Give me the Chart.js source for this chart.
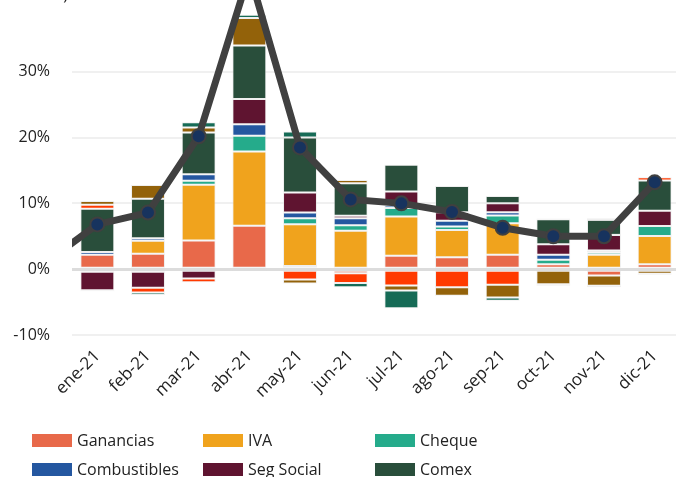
<!DOCTYPE html>
<html>
<head>
<meta charset="utf-8">
<script src="https://cdn.jsdelivr.net/npm/chart.js@4.4.1/dist/chart.umd.min.js"></script>
<style>
  html, body { margin: 0; padding: 0; background: #fff; }
  #wrap { position: relative; width: 676px; height: 477px; overflow: hidden; }
  #legend { position: absolute; left: 0; top: 0; width: 676px; height: 477px; pointer-events: none;
            font-family: "Open Sans", sans-serif; font-size: 16px; color: #222; }
  .item { position: absolute; display: flex; align-items: center; white-space: nowrap; }
  .box { width: 40px; height: 13px; margin-right: 5px; }
</style>
</head>
<body>
<div id="wrap">
  <!-- a bit wider than the page: the original plot runs past the right edge -->
  <canvas id="chart" width="680" height="477"></canvas>
  <div id="legend"></div>
</div>
<script>
// first label is only there so the line comes in from the left edge
const months = ['dic-20', 'ene-21', 'feb-21', 'mar-21', 'abr-21', 'may-21', 'jun-21',
                'jul-21', 'ago-21', 'sep-21', 'oct-21', 'nov-21', 'dic-21'];
const yTicks = [-10, 0, 10, 20, 30];

// contributions (p.p.)
const ganancias    = [null, 2.2, 2.33, 4.36, 6.59, 0.5, -0.6, 2.03, 1.82, 2.18, 0.76, -0.96, 0.76];
const iva          = [null, -0.4, 1.98, 8.46, 11.3, 6.33, 5.83, 5.98, 4.15, 4.8, 0, 2.18, 4.3];
const cheque       = [null, 0, -0.4, 0.6, 2.38, 0.91, 0.86, 1.27, 0.5, 1.17, 0.66, 0.35, 1.52];
const combustibles = [null, 0.4, 0.4, 1.0, 1.77, 0.86, 1.06, 0.4, 0.9, 0.5, 0.76, 0.3, 0];
const segSocial    = [null, -2.8, -2.43, -1.4, 3.8, 3.04, 0.35, 2.13, 1.27, 1.37, 1.62, 2.38, 2.28];
const comex        = [null, 6.6, 6.0, 6.33, 8.16, 8.36, 4.96, 4.05, 4.0, 1.1, 3.8, 2.28, 4.6];
const bienesPers   = [null, 0.6, -0.7, -0.6, -0.2, -1.57, -1.5, -2.48, -2.74, -2.38, 0.1, 0.25, 0.5];
const otros        = [null, 0.55, 2.08, 0.76, 4.15, -0.6, 0.5, -0.76, -1.3, -1.93, -2.28, -1.57, -0.7];
const resto        = [null, -0.15, -0.4, 0.81, 0.5, 0.91, -0.66, -2.68, 0, -0.5, -0.25, -0.2, -0.15];

// total (var. %)
const total = [1.1, 6.8, 8.6, 20.2, 45, 18.5, 10.6, 10.0, 8.7, 6.3, 5.0, 5.0, 13.2];

const series = [
    { label: 'Ganancias', data: ganancias, color: '#e8694a', legend: true },
    { label: 'IVA', data: iva, color: '#f0a31d', legend: true },
    { label: 'Cheque', data: cheque, color: '#25ab8b', legend: true },
    { label: 'Combustibles', data: combustibles, color: '#2457a0', legend: true },
    { label: 'Seg Social', data: segSocial, color: '#5f1430', legend: true },
    { label: 'Comex', data: comex, color: '#294e3b', legend: true },
    { label: 'Bienes Personales', data: bienesPers, color: '#ff3a00', legend: false },
    { label: 'Otros', data: otros, color: '#93620a', legend: false },
    { label: 'Resto', data: resto, color: '#166b56', legend: false }
];

const FONT = "'Open Sans', sans-serif";

const datasets = series.map(s => ({
    type: 'bar',
    label: s.label,
    data: s.data,
    backgroundColor: s.color,
    borderColor: 'rgba(225,225,225,0.55)',
    borderWidth: 1,
    borderSkipped: false,
    categoryPercentage: 1,
    barPercentage: 0.67,
    stack: 'bars',
    order: 1
}));

datasets.push({
    type: 'line',
    label: 'Total',
    data: total,
    borderColor: '#404040',
    borderWidth: 7,
    pointRadius: 7,
    pointBackgroundColor: '#17335e',
    pointBorderColor: '#404040',
    pointBorderWidth: 2,
    tension: 0,
    stack: 'line',
    clip: 0,
    order: 0
});

// the cut-off title, only its descending ")" shows
const topText = {
    id: 'topText',
    afterDraw(chart) {
        const ctx = chart.ctx;
        ctx.save();
        ctx.font = "16px " + FONT;
        ctx.fillStyle = '#222';
        ctx.textAlign = 'right';
        ctx.textBaseline = 'alphabetic';
        ctx.fillText(')', 68, 0);
        ctx.restore();
    }
};

const chart = new Chart(document.getElementById('chart'), {
    data: { labels: months, datasets: datasets },
    options: {
        responsive: false,
        animation: false,
        layout: { autoPadding: false, padding: { left: 0, right: 0, top: 0, bottom: 57 } },
        plugins: {
            legend: { display: false },
            tooltip: { enabled: false }
        },
        scales: {
            x: {
                stacked: true,
                offset: true,
                min: 'ene-21',
                grid: { display: false, drawTicks: false },
                border: { display: false },
                ticks: {
                    minRotation: 45,
                    maxRotation: 45,
                    padding: 11,
                    color: '#222',
                    font: { family: FONT, size: 17 }
                },
                afterFit: scale => {
                    scale.height = 85;
                    scale.paddingLeft = 0;
                    scale.paddingRight = 0;
                }
            },
            y: {
                stacked: true,
                min: -10,
                max: 40.9,
                afterBuildTicks: scale => { scale.ticks = yTicks.map(v => ({ value: v })); },
                grid: {
                    drawTicks: false,
                    color: ctx => ctx.tick && ctx.tick.value === 0 ? '#dcdcdc' : '#f0f0f0',
                    lineWidth: ctx => ctx.tick && ctx.tick.value === 0 ? 3 : 2
                },
                border: { display: false },
                ticks: {
                    padding: 22,
                    color: '#222',
                    font: { family: FONT, size: 16 },
                    callback: v => v + '%'
                },
                afterFit: scale => {
                    scale.width = 72;
                    scale.paddingTop = 0;
                    scale.paddingBottom = 0;
                }
            }
        }
    },
    plugins: [topText]
});

// legend: three columns like the original
const legendEl = document.getElementById('legend');
const cols = [32, 203, 375];
const rows = [440, 469];
series.filter(s => s.legend).forEach((s, i) => {
    const item = document.createElement('div');
    item.className = 'item';
    item.style.left = cols[i % 3] + 'px';
    item.style.top = (rows[Math.floor(i / 3)] - 11) + 'px';
    item.style.height = '22px';
    const box = document.createElement('span');
    box.className = 'box';
    box.style.background = s.color;
    const txt = document.createElement('span');
    txt.textContent = s.label;
    item.appendChild(box);
    item.appendChild(txt);
    legendEl.appendChild(item);
});
</script>
</body>
</html>
